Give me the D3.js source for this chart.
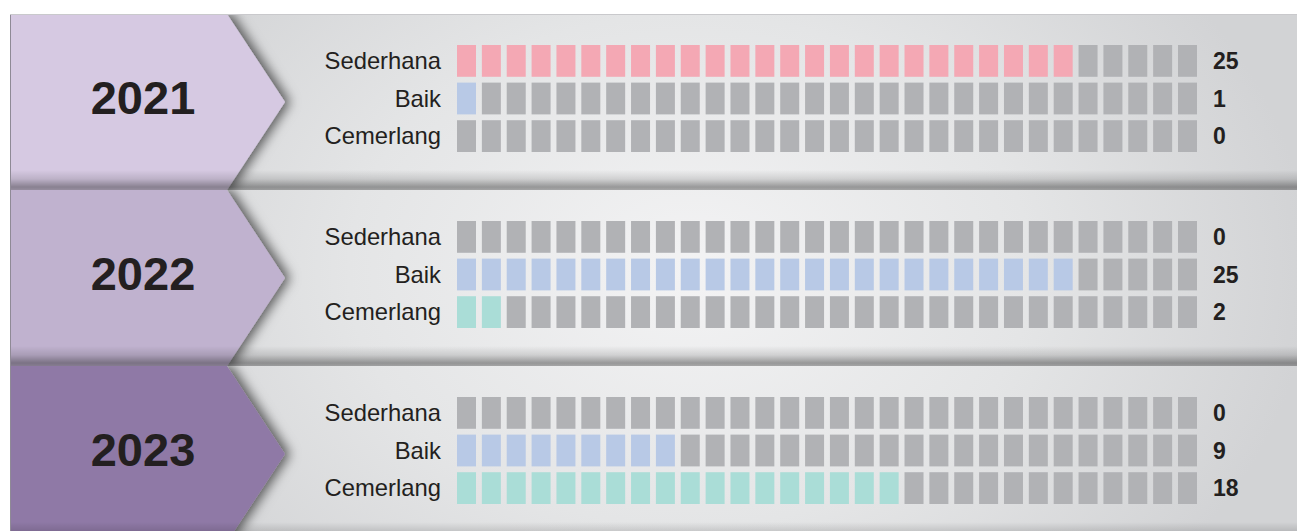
<!DOCTYPE html>
<html>
<head>
<meta charset="utf-8">
<script src="https://cdn.jsdelivr.net/npm/d3@7"></script>
<style>
  html, body { margin: 0; padding: 0; background: #fff; }
  svg { display: block; font-family: "Liberation Sans", Arial, sans-serif; }
</style>
</head>
<body>
<svg width="1297" height="531"></svg>
<script>
// data
var years = ["2021", "2022", "2023"];
var categories = ["Sederhana", "Baik", "Cemerlang"];
var sederhana = [25, 0, 0];
var baik = [1, 25, 9];
var cemerlang = [0, 2, 18];
var totalSquares = 30;

var yearColors = ["#d6c9e2", "#c0b2cf", "#8f79a6"];
var catColors = ["#f4a8b4", "#b8c9e6", "#aaddd7"];
var emptyColor = "#b1b2b5";
var textColor = "#231f20";

var svg = d3.select("svg"),
    width = +svg.attr("width"),
    height = +svg.attr("height"),
    left = 10,
    top0 = 14,
    panelH = 176,
    arrowW = 217,
    arrowTip = 58;

var defs = svg.append("defs");

var bg = defs.append("radialGradient")
    .attr("id", "bg")
    .attr("gradientUnits", "userSpaceOnUse")
    .attr("cx", 690).attr("cy", 270).attr("r", 620)
    .attr("gradientTransform", "translate(690,270) scale(1,0.75) translate(-690,-270)");
bg.append("stop").attr("offset", 0).attr("stop-color", "#f3f3f4");
bg.append("stop").attr("offset", 0.55).attr("stop-color", "#e4e5e6");
bg.append("stop").attr("offset", 1).attr("stop-color", "#d2d3d5");

var band = defs.append("linearGradient")
    .attr("id", "band")
    .attr("x1", 0).attr("y1", 0).attr("x2", 0).attr("y2", 1);
band.append("stop").attr("offset", 0).attr("stop-color", "#000").attr("stop-opacity", 0);
band.append("stop").attr("offset", 0.45).attr("stop-color", "#000").attr("stop-opacity", 0.12);
band.append("stop").attr("offset", 0.85).attr("stop-color", "#000").attr("stop-opacity", 0.36);
band.append("stop").attr("offset", 1).attr("stop-color", "#000").attr("stop-opacity", 0.3);

var shadow = defs.append("filter")
    .attr("id", "shadow")
    .attr("x", "-20%").attr("y", "-20%").attr("width", "150%").attr("height", "140%");
shadow.append("feDropShadow")
    .attr("dx", 5).attr("dy", 0)
    .attr("stdDeviation", 6)
    .attr("flood-color", "#000")
    .attr("flood-opacity", 0.6);

// scales
var x = d3.scaleBand()
    .domain(d3.range(totalSquares))
    .range([457, 1197])
    .paddingInner(0.236);

var y = d3.scaleBand()
    .domain(categories)
    .range([45 - top0, 152 - top0])
    .paddingInner(0.155);

var panelY = d3.scaleBand()
    .domain(years)
    .range([top0, top0 + panelH * years.length]);

var values = years.map(function(yr, i) {
    return [sederhana[i], baik[i], cemerlang[i]];
});

svg.append("rect")
    .attr("x", left).attr("y", top0)
    .attr("width", width - left).attr("height", height - top0)
    .attr("fill", "url(#bg)");

var panel = svg.selectAll("g.panel")
    .data(years)
    .enter().append("g")
    .attr("class", "panel")
    .attr("transform", function(d) { return "translate(0," + panelY(d) + ")"; });

panel.each(function(d, i) {
    defs.append("clipPath").attr("id", "clip" + i)
        .append("rect")
        .attr("x", left).attr("y", 0)
        .attr("width", width - left).attr("height", panelH);
});

var inner = panel.append("g")
    .attr("clip-path", function(d, i) { return "url(#clip" + i + ")"; });

inner.append("path")
    .attr("d", "M" + left + ",0H" + (left + arrowW) + "L" + (left + arrowW + arrowTip) + "," + (panelH / 2) +
        "L" + (left + arrowW) + "," + panelH + "H" + left + "Z")
    .attr("fill", function(d, i) { return yearColors[i]; })
    .attr("filter", "url(#shadow)");

inner.append("rect")
    .attr("x", left).attr("y", panelH - 20)
    .attr("width", width - left).attr("height", 20)
    .attr("fill", "url(#band)");

panel.append("text")
    .attr("x", 143)
    .attr("y", 83)
    .attr("dy", "0.36em")
    .attr("text-anchor", "middle")
    .attr("font-size", "47px")
    .attr("font-weight", "bold")
    .attr("fill", textColor)
    .text(function(d) { return d; });

var row = panel.selectAll("g.row")
    .data(function(d, i) {
        return categories.map(function(c, j) { return { cat: c, j: j, value: values[i][j] }; });
    })
    .enter().append("g")
    .attr("class", "row")
    .attr("transform", function(d) { return "translate(0," + y(d.cat) + ")"; });

row.append("text")
    .attr("x", 441)
    .attr("y", y.bandwidth() / 2)
    .attr("dy", "0.34em")
    .attr("text-anchor", "end")
    .attr("font-size", "23.8px")
    .attr("fill", textColor)
    .text(function(d) { return d.cat; });

row.selectAll("rect")
    .data(function(d) {
        return d3.range(totalSquares).map(function(k) { return { k: k, on: k < d.value, j: d.j }; });
    })
    .enter().append("rect")
    .attr("x", function(d) { return x(d.k); })
    .attr("y", 0)
    .attr("width", x.bandwidth())
    .attr("height", y.bandwidth())
    .attr("fill", function(d) { return d.on ? catColors[d.j] : emptyColor; });

row.append("text")
    .attr("x", 1213)
    .attr("y", y.bandwidth() / 2)
    .attr("dy", "0.36em")
    .attr("font-size", "23px")
    .attr("font-weight", "bold")
    .attr("fill", textColor)
    .text(function(d) { return d.value; });

svg.append("line")
    .attr("x1", left + 0.5).attr("x2", left + 0.5)
    .attr("y1", top0).attr("y2", height)
    .attr("stroke", "#8f8a96").attr("stroke-width", 1);
svg.append("line")
    .attr("x1", left).attr("x2", width)
    .attr("y1", top0 + 0.5).attr("y2", top0 + 0.5)
    .attr("stroke", "#c9c9cc").attr("stroke-width", 1);
</script>
</body>
</html>
